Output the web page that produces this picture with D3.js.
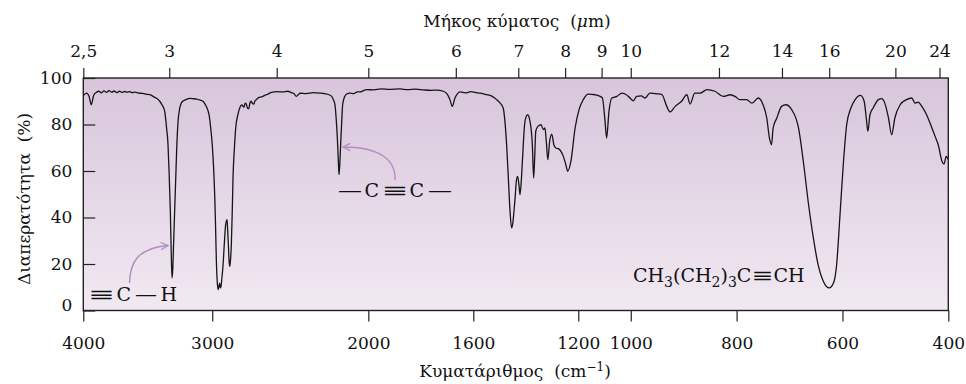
<!DOCTYPE html>
<html>
<head>
<meta charset="utf-8">
<script src="https://cdn.jsdelivr.net/npm/d3@7"></script>
<style>
  body { margin: 0; background: #fff; }
  svg { display: block; }
  text { font-family: "DejaVu Serif", serif; fill: #111; }
</style>
</head>
<body>
<svg id="chart" width="966" height="384"></svg>
<script>
// Tick values for the three axes
const wavenumberTicks = [4000, 3000, 2000, 1600, 1200, 1000, 800, 600, 400];
const wavelengthTicks = [2.5, 3, 4, 5, 6, 7, 8, 9, 10, 12, 14, 16, 20, 24];
const transmittanceTicks = [0, 20, 40, 60, 80, 100];

// IR spectrum of 1-hexyne: [wavenumber (cm-1), transmittance (%)]
const spectrum = [
  [4000, 92.5], [3975, 93.5], [3955, 92.0], [3938, 88.5], [3920, 92.5], [3899, 93.8],
  [3880, 94.3], [3860, 93.6], [3840, 94.5], [3820, 93.8], [3800, 94.6], [3780, 93.9],
  [3760, 94.4], [3740, 93.7], [3720, 94.3], [3700, 93.8], [3680, 94.2], [3660, 93.9],
  [3640, 94.1], [3620, 93.7], [3600, 93.9], [3570, 93.5], [3540, 93.4], [3510, 93.0],
  [3485, 92.8], [3450, 91.8], [3420, 90.8], [3407, 90.0], [3390, 88.5], [3369, 85.7],
  [3355, 79.0], [3343, 71.3], [3335, 60.0], [3325, 42.7], [3318, 25.0], [3312, 14.0],
  [3306, 18.0], [3300, 28.3], [3292, 42.0], [3283, 57.0], [3274, 72.0], [3265, 81.4],
  [3252, 87.0], [3240, 89.2], [3220, 90.3], [3200, 90.8], [3175, 91.2], [3149, 91.1],
  [3120, 90.9], [3095, 90.5], [3072, 90.0], [3050, 88.2], [3035, 86.3], [3025, 84.2],
  [3012, 78.5], [3000, 71.3], [2990, 62.0], [2981, 49.8], [2975, 38.0], [2968, 21.2],
  [2962, 13.0], [2955, 9.0], [2948, 10.5], [2942, 11.8], [2938, 10.0], [2934, 9.7],
  [2925, 14.0], [2916, 19.7], [2906, 29.0], [2896, 36.9], [2885, 39.1], [2880, 34.0],
  [2875, 28.3], [2869, 21.0], [2864, 19.0], [2858, 22.0], [2852, 28.3], [2845, 42.0],
  [2839, 57.0], [2828, 70.0], [2818, 78.5], [2800, 84.5], [2787, 87.1], [2770, 88.4],
  [2754, 87.4], [2745, 89.2], [2736, 88.8], [2726, 87.0], [2717, 86.8], [2707, 89.4],
  [2697, 90.0], [2688, 89.0], [2678, 88.8], [2668, 90.2], [2658, 90.7], [2645, 91.4],
  [2632, 91.7], [2612, 92.0], [2593, 92.5], [2570, 93.0], [2550, 93.6], [2530, 93.9],
  [2500, 94.1], [2466, 94.0], [2440, 94.3], [2420, 93.7], [2405, 93.2], [2393, 92.1],
  [2380, 93.0], [2373, 93.5], [2340, 93.3], [2300, 93.7], [2264, 93.5], [2235, 93.2],
  [2215, 92.8], [2200, 92.1], [2190, 90.5], [2182, 88.5], [2175, 82.0], [2169, 74.2],
  [2164, 65.0], [2160, 58.4], [2155, 64.0], [2151, 71.3], [2146, 80.0], [2140, 88.5],
  [2130, 91.8], [2118, 93.1], [2100, 93.5], [2080, 93.3], [2060, 94.0], [2045, 94.0],
  [2025, 94.6], [2009, 95.0], [1980, 94.9], [1950, 95.3], [1920, 95.1], [1879, 95.3],
  [1850, 95.0], [1820, 95.2], [1790, 94.9], [1760, 94.7], [1740, 94.8], [1714, 94.3],
  [1700, 93.2], [1689, 90.7], [1680, 87.8], [1670, 91.4], [1660, 93.3], [1650, 94.0],
  [1630, 93.6], [1610, 94.1], [1590, 93.7], [1574, 93.5], [1555, 93.0], [1540, 92.6],
  [1525, 91.9], [1511, 90.7], [1500, 89.5], [1486, 87.1], [1480, 82.0], [1473, 71.3],
  [1466, 56.0], [1460, 42.7], [1454, 35.5], [1449, 38.0], [1445, 42.7], [1441, 48.0],
  [1436, 55.6], [1431, 57.7], [1426, 54.0], [1422, 49.8], [1417, 56.0], [1413, 64.0],
  [1403, 81.4], [1393, 84.2], [1384, 81.4], [1375, 71.3], [1370, 57.0], [1366, 66.0],
  [1362, 77.1], [1354, 79.2], [1342, 79.9], [1333, 77.8], [1327, 78.5], [1322, 73.0],
  [1316, 64.9], [1309, 72.8], [1301, 75.9], [1293, 71.3], [1286, 69.9], [1276, 69.6],
  [1257, 66.3], [1248, 63.0], [1240, 59.9], [1228, 64.2], [1212, 78.5], [1197, 86.4],
  [1181, 90.7], [1162, 93.1], [1136, 92.8], [1115, 92.0], [1108, 91.4], [1098, 81.4],
  [1092, 74.2], [1083, 85.7], [1072, 91.4], [1053, 92.1], [1034, 93.5], [1020, 93.0],
  [1009, 92.1], [995, 90.2], [989, 92.1], [980, 92.3], [973, 91.4], [964, 93.5],
  [950, 93.2], [941, 92.8], [932, 87.8], [926, 85.4], [916, 87.8], [904, 90.0],
  [894, 92.8], [888, 88.8], [879, 93.5], [869, 93.5], [856, 95.0], [841, 94.3],
  [825, 92.1], [812, 92.8], [803, 92.1], [794, 90.7], [781, 90.7], [771, 89.2],
  [759, 91.4], [750, 88.5], [743, 82.8], [738, 74.2], [734, 71.3], [731, 78.5],
  [724, 82.8], [715, 87.8], [707, 88.5], [696, 86.4], [683, 78.5], [674, 64.2],
  [664, 45.5], [655, 31.2], [646, 19.7], [636, 12.5], [625, 9.7], [617, 11.8],
  [611, 19.7], [605, 39.8], [598, 64.2], [592, 79.9], [584, 87.1], [576, 90.7],
  [566, 92.5], [559, 90.0], [555, 82.8], [552, 77.1], [548, 84.2], [542, 87.1],
  [532, 90.7], [526, 91.1], [520, 89.2], [513, 82.8], [507, 75.6], [501, 82.8],
  [491, 88.5], [479, 90.7], [469, 91.4], [463, 89.2], [457, 89.6], [450, 87.8],
  [441, 84.2], [431, 78.5], [425, 74.9], [419, 71.3], [412, 64.2], [408, 63.0],
  [404, 66.3], [400, 64.9]
];

const svg = d3.select("#chart");
const frame = { left: 83.3, right: 948.3, top: 78, bottom: 310.5 };
const W = frame.right - frame.left;

// The wavenumber axis is stretched piecewise (expanded below 2000 and 1000 cm-1)
const x = d3.scaleLinear()
  .domain([4000, 2500, 2000, 1000, 400])
  .range([0, 0.2236, 0.3295, 0.6329, 1].map(f => frame.left + f * W));
const y = d3.scaleLinear().domain([0, 100]).range([frame.bottom, frame.top]);

// Lavender background panel
const defs = svg.append("defs");
const grad = defs.append("linearGradient").attr("id", "panelFill")
  .attr("x1", 0).attr("y1", 0).attr("x2", 0).attr("y2", 1);
grad.append("stop").attr("offset", "0%").attr("stop-color", "#d8c5db");
grad.append("stop").attr("offset", "100%").attr("stop-color", "#f1e9f2");

const arrowColor = "#b38cc2";
defs.append("marker").attr("id", "chev")
  .attr("viewBox", "0 0 10 10").attr("refX", 9).attr("refY", 5)
  .attr("markerWidth", 9).attr("markerHeight", 9).attr("markerUnits", "userSpaceOnUse")
  .attr("orient", "auto")
  .append("path").attr("d", "M1,1 L9,5 L1,9")
  .attr("fill", "none").attr("stroke", arrowColor).attr("stroke-width", 1.4);

svg.append("rect")
  .attr("x", frame.left).attr("y", frame.top)
  .attr("width", W).attr("height", frame.bottom - frame.top)
  .attr("fill", "url(#panelFill)");

// Axes
const fontSize = 17;
const bottomAxis = d3.axisBottom(x).tickValues(wavenumberTicks)
  .tickSize(11).tickPadding(15).tickFormat(d3.format("d"));
const topAxis = d3.axisTop(x).tickValues(wavelengthTicks.map(w => 1e4 / w))
  .tickSize(10).tickPadding(11)
  .tickFormat(v => String(Math.round(1e4 / v * 10) / 10).replace(".", ","));
const leftAxis = d3.axisLeft(y).tickValues(transmittanceTicks)
  .tickSizeInner(-12).tickSizeOuter(0).tickPadding(11);

function styleAxis(g) {
  g.select(".domain").remove();
  g.selectAll(".tick line").attr("stroke", "#222").attr("stroke-width", 1.2);
  g.selectAll(".tick text").style("font-family", '"DejaVu Serif", serif')
    .style("font-size", fontSize + "px").attr("fill", "#111");
}

svg.append("g").attr("transform", `translate(0,${frame.bottom})`).call(bottomAxis).call(styleAxis);
svg.append("g").attr("transform", `translate(0,${frame.top})`).call(topAxis).call(styleAxis);
const yg = svg.append("g").attr("transform", `translate(${frame.left},0)`).call(leftAxis).call(styleAxis);
yg.selectAll(".tick").filter(d => d === 0).select("text").attr("dy", "0.0em");

// Spectrum trace
const line = d3.line().x(d => x(d[0])).y(d => y(d[1])).curve(d3.curveMonotoneX);
svg.append("path").datum(spectrum)
  .attr("d", line).attr("fill", "none")
  .attr("stroke", "#151515").attr("stroke-width", 1.3).attr("stroke-linejoin", "round");

// Frame
svg.append("rect")
  .attr("x", frame.left).attr("y", frame.top)
  .attr("width", W).attr("height", frame.bottom - frame.top)
  .attr("fill", "none").attr("stroke", "#222").attr("stroke-width", 1.4);

// Axis titles
const topTitle = svg.append("text").attr("x", 517).attr("y", 27)
  .attr("text-anchor", "middle").style("font-size", fontSize + "px");
topTitle.append("tspan").text("Μήκος κύματος\u00a0\u00a0(");
topTitle.append("tspan").style("font-style", "italic").text("μ");
topTitle.append("tspan").text("m)");

const bottomTitle = svg.append("text").attr("x", 515).attr("y", 377)
  .attr("text-anchor", "middle").style("font-size", fontSize + "px");
bottomTitle.append("tspan").text("Κυματάριθμος\u00a0\u00a0(cm");
bottomTitle.append("tspan").attr("dy", -6).style("font-size", "12px").text("−1");
bottomTitle.append("tspan").attr("dy", 6).text(")");

svg.append("text").attr("transform", "translate(30,199) rotate(-90)")
  .attr("text-anchor", "middle").style("font-size", fontSize + "px")
  .text("Διαπερατότητα\u00a0\u00a0(%)");

// Bond-group labels: each glyph placed and stretched to its width
function glyph(txt, x0, width, baseline, size) {
  const t = svg.append("text").attr("x", x0).attr("y", baseline)
    .style("font-size", size + "px").text(txt);
  if (width) t.attr("textLength", width).attr("lengthAdjust", "spacingAndGlyphs");
  return t;
}
const fs = 19;
// ≡C—H
glyph("≡", 88, 27, 301, fs);
glyph("C", 116.5, 0, 301, fs);
glyph("—", 135, 22, 301, fs);
glyph("H", 160.5, 0, 301, fs);
// —C≡C—
glyph("—", 338, 24, 197, fs);
glyph("C", 364.5, 0, 197, fs);
glyph("≡", 381.5, 27, 197, fs);
glyph("C", 409.5, 0, 197, fs);
glyph("—", 428, 24, 197, fs);

// Compound formula
const formula = svg.append("text").attr("x", 633).attr("y", 282).style("font-size", "19px");
[["CH", 0], ["3", 1], ["(CH", 0], ["2", 1], [")", 0], ["3", 1], ["C", 0], ["≡", 2], ["CH", 0]].forEach(([s, kind], i, arr) => {
  const prevSub = i > 0 && arr[i - 1][1] === 1;
  const sub = kind === 1;
  const dy = sub && !prevSub ? 5 : (!sub && prevSub ? -5 : 0);
  const t = formula.append("tspan").attr("dy", dy)
    .style("font-size", sub ? "14px" : "19px").text(s);
  if (kind === 2) t.attr("textLength", 22).attr("lengthAdjust", "spacingAndGlyphs");
});

// Pointer arrows
svg.append("path").attr("d", "M129.5,283 C130,262 138,248 168,245.5")
  .attr("fill", "none").attr("stroke", arrowColor).attr("stroke-width", 1.4)
  .attr("marker-end", "url(#chev)");
svg.append("path").attr("d", "M395,180 C396,160 380,147 343,147")
  .attr("fill", "none").attr("stroke", arrowColor).attr("stroke-width", 1.4)
  .attr("marker-end", "url(#chev)");
</script>
</body>
</html>
